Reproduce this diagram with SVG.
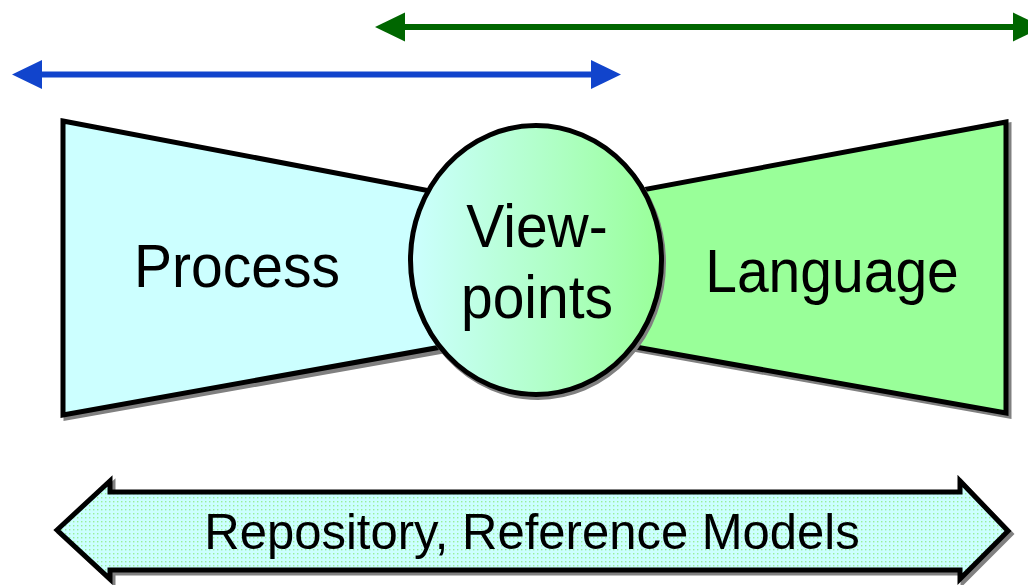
<svg xmlns="http://www.w3.org/2000/svg" width="1028" height="585" viewBox="0 0 1028 585">
<style>
  .lbl { font-family: "Liberation Sans", Arial, sans-serif; fill: #000; text-anchor: middle; }
  .big { font-size: 57px; }
  .mid { font-size: 49px; }
  .shape { stroke: #000; stroke-width: 5; stroke-linejoin: miter; }
  .shadow { fill: #808080; stroke: #808080; stroke-width: 5; }
</style>
<defs>
  <linearGradient id="vpGrad" x1="0" y1="0" x2="1" y2="0">
    <stop offset="0" stop-color="#ccffff"/>
    <stop offset="1" stop-color="#99ff99"/>
  </linearGradient>
  <pattern id="dots" width="4" height="4" patternUnits="userSpaceOnUse">
    <rect width="4" height="4" fill="#ccffff"/>
    <rect x="1" y="1" width="1.4" height="1.4" fill="#99ee99"/>
  </pattern>
  <marker id="headBlue" markerUnits="userSpaceOnUse" markerWidth="30" markerHeight="30" refX="0" refY="14.5" orient="auto-start-reverse" viewBox="0 0 30 29" overflow="visible">
    <path d="M0,0 L30,14.5 L0,29 Z" fill="#1144cc"/>
  </marker>
  <marker id="headGreen" markerUnits="userSpaceOnUse" markerWidth="30" markerHeight="30" refX="0" refY="14.5" orient="auto-start-reverse" viewBox="0 0 30 29" overflow="visible">
    <path d="M0,0 L30,14.5 L0,29 Z" fill="#006600"/>
  </marker>
</defs>
<rect width="1028" height="585" fill="#ffffff"/>

<g id="connectors">
  <line x1="42" y1="74.5" x2="591" y2="74.5" stroke="#1144cc" stroke-width="6" marker-start="url(#headBlue)" marker-end="url(#headBlue)"/>
  <line x1="405" y1="27" x2="1013" y2="27" stroke="#006600" stroke-width="6" marker-start="url(#headGreen)" marker-end="url(#headGreen)"/>
</g>

<g id="process">
  <path class="shadow" d="M66,124 L533,214 L533,335 L66,418 Z"/>
  <path class="shape" fill="#ccffff" d="M63,121 L530,210 L530,331 L63,415 Z"/>
  <text class="lbl big" transform="translate(237,287) scale(1,1.06)">Process</text>
</g>

<g id="language">
  <path class="shadow" d="M1009,125 L543,212 L543,333 L1009,416 Z"/>
  <path class="shape" fill="#99ff99" d="M1006,122 L540,209 L540,330 L1006,413 Z"/>
  <text class="lbl big" transform="translate(832,292) scale(1,1.06)">Language</text>
</g>

<g id="viewpoints">
  <ellipse class="shadow" cx="538" cy="263" rx="125.5" ry="134.5"/>
  <ellipse class="shape" fill="url(#vpGrad)" cx="536" cy="260" rx="125.5" ry="134.5"/>
  <text class="lbl big" transform="translate(537,247) scale(1,1.06)">View-</text>
  <text class="lbl big" transform="translate(537,318) scale(1,1.06)">points</text>
</g>

<g id="repository">
  <path class="shadow" d="M60,533 L113,484 L113,495 L963,495 L963,484 L1011,534 L963,582 L963,573 L113,573 L113,582 Z"/>
  <path class="shape" fill="url(#dots)" d="M57,530 L110,481 L110,492 L960,492 L960,481 L1008,531 L960,579 L960,570 L110,570 L110,579 Z"/>
  <text class="lbl mid" transform="translate(532,549) scale(1,1.03)">Repository, Reference Models</text>
</g>
</svg>
